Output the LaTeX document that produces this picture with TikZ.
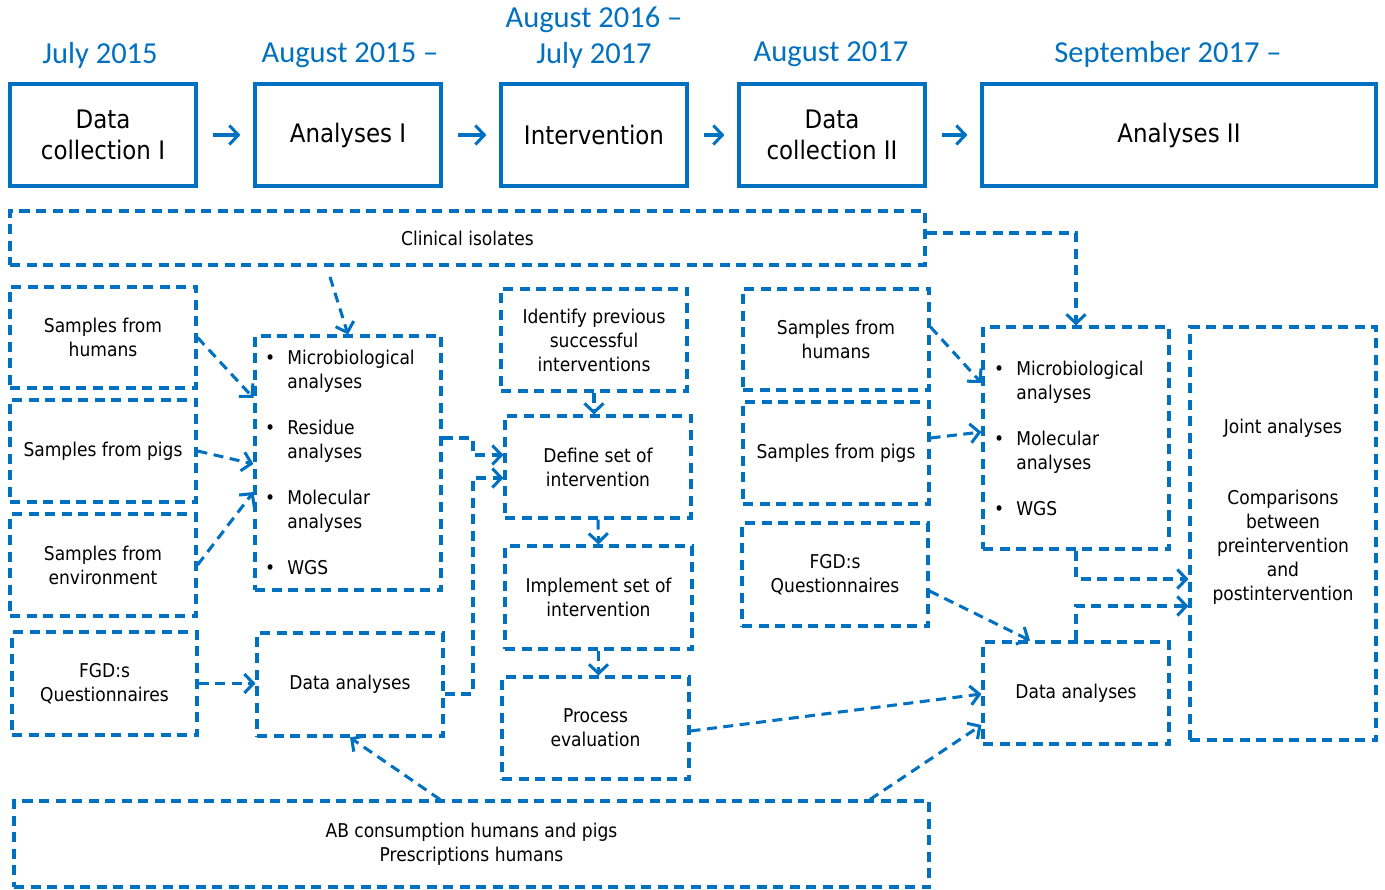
\documentclass[tikz,border=0pt]{standalone}
\usepackage{fontspec}
\setmainfont{DejaVu Sans Condensed}
\newfontfamily\headfont{Carlito}
\usetikzlibrary{arrows.meta,calc}
\definecolor{bl}{HTML}{0070C0}
\begin{document}
\begin{tikzpicture}[x=1pt,y=-1pt,
 solidbox/.style={draw=bl,line width=3.1pt,inner sep=0pt,align=center,font=\fontsize{25.5}{31}\selectfont},
 dbox/.style={draw=bl,line width=3.05pt,dash pattern=on 10pt off 6.5pt,inner sep=0pt,align=center,font=\fontsize{19}{24}\selectfont},
 txt/.style={inner sep=0pt,align=center,font=\fontsize{19}{24}\selectfont},
 head/.style={text=bl,inner sep=0pt,font=\headfont\fontsize{30.5}{36}\selectfont,align=center},
 tip/.style={-{Straight Barb[length=9pt,width=19pt,line width=3.05pt]}},
 darr/.style={draw=bl,line width=3.05pt,dash pattern=on 10pt off 6.5pt,tip},
 sarr/.style={draw=bl,line width=3.2pt,tip},
]
\useasboundingbox (0,0) rectangle (1385,890);
% headings
\node[head] (h1) at (100,55) {July 2015};
\node[head] (h2) at (350,55) {August 2015 –};
\node[head] (h3) at (594,38) {August 2016 –\\July 2017};
\node[head] (h4) at (831,54) {August 2017};
\node[head] (h5) at (1168,54) {September 2017 –};
% top boxes
\node[solidbox,minimum width=186pt,minimum height=102pt] (dc1) at (103,135) {Data\\collection I};
\node[solidbox,minimum width=186pt,minimum height=102pt] (a1) at (348,135) {Analyses I};
\node[solidbox,minimum width=186pt,minimum height=102pt] (int) at (594,135) {Intervention};
\node[solidbox,minimum width=186pt,minimum height=102pt] (dc2) at (832,135) {Data\\collection II};
\node[solidbox,minimum width=394pt,minimum height=102pt] (a2) at (1179,135) {Analyses II};
\foreach \a/\b in {dc1/a1,a1/int,int/dc2,dc2/a2}
  \draw[sarr,shorten <=15pt,shorten >=13pt] (\a.east) -- (\b.west);
% dashed boxes
\node[dbox,minimum width=915pt,minimum height=54pt] (clin) at (467.5,238) {Clinical isolates};
\node[dbox,minimum width=186pt,minimum height=101pt] (hl) at (103,337.5) {Samples from\\humans};
\node[dbox,minimum width=186pt,minimum height=102pt] (pl) at (103,451) {Samples from pigs};
\node[dbox,minimum width=186pt,minimum height=102pt] (el) at (103,565) {Samples from\\environment};
\node[dbox,minimum width=185pt,minimum height=103pt] (fl) at (104.5,683.5) {FGD:s\\Questionnaires};
\node[dbox,minimum width=186pt,minimum height=254pt] (labL) at (348,463) {};
\node[dbox,minimum width=186pt,minimum height=103pt] (daL) at (350,684.5) {Data analyses};
\node[dbox,minimum width=186pt,minimum height=102pt] (idf) at (594,340) {Identify previous\\successful\\interventions};
\node[dbox,minimum width=186pt,minimum height=102pt] (def) at (598,467) {Define set of\\intervention};
\node[dbox,minimum width=187pt,minimum height=103pt] (imp) at (598.5,597.5) {Implement set of\\intervention};
\node[dbox,minimum width=187pt,minimum height=102pt] (proc) at (595.5,728) {Process\\evaluation};
\node[dbox,minimum width=915pt,minimum height=86pt] (ab) at (471.5,844) {AB consumption humans and pigs\\Prescriptions humans};
\node[dbox,minimum width=186pt,minimum height=101pt] (hr) at (836,339.5) {Samples from\\humans};
\node[dbox,minimum width=186pt,minimum height=102pt] (pr) at (836,453) {Samples from pigs};
\node[dbox,minimum width=186pt,minimum height=103pt] (fr) at (835,574.5) {FGD:s\\Questionnaires};
\node[dbox,minimum width=186pt,minimum height=222pt] (labR) at (1076,438) {};
\node[dbox,minimum width=186pt,minimum height=102pt] (daR) at (1076,693) {Data analyses};
\node[dbox,minimum width=186pt,minimum height=413pt] (joint) at (1283,533.5) {};
% box contents
\node[txt,anchor=base west,align=left] (labLt) at (265,365) {\begin{tabular}[t]{@{}l@{\hspace{12pt}}l@{}}
•&Microbiological\\&analyses\\[22pt]
•&Residue\\&analyses\\[22pt]
•&Molecular\\&analyses\\[22pt]
•&WGS\end{tabular}};
\node[txt,anchor=base west,align=left] (labRt) at (994,376) {\begin{tabular}[t]{@{}l@{\hspace{12pt}}l@{}}
•&Microbiological\\&analyses\\[22pt]
•&Molecular\\&analyses\\[22pt]
•&WGS\end{tabular}};
\node[txt] (jt) at (1283,512) {Joint analyses\\[47pt]Comparisons\\between\\preintervention\\and\\postintervention};
% connectors
\coordinate (ci) at (330,277);
\draw[darr] (ci) -- (labL.north);
\draw[darr] (hl.east) -- (labL.west |- 0,398);
\draw[darr] (pl.east) -- (labL.west |- 0,464);
\draw[darr] (el.east) -- (labL.west |- 0,492);
\draw[darr] (fl.east) -- (daL.west |- fl.east);
\draw[darr] (labL.east |- 0,438) -- (473,438) |- (def.west |- 0,455);
\draw[darr] (daL.east |- 0,694) -- (473,694) |- (def.west |- 0,478);
\draw[darr] (idf.south) -- (idf.south |- def.north);
\draw[darr] (def.south) -- (imp.north);
\draw[darr] (imp.south) -- (imp.south |- proc.north);
\draw[darr] (proc.east |- 0,731) -- (daR.west |- 0,694);
\draw[darr] (ab.north -| 440,0) -- (daL.south);
\draw[darr] (ab.north -| 870,0) -- (daR.west |- 0,725);
\draw[darr] (clin.east |- 0,233) -| (labR.north);
\draw[darr] (hr.east |- 0,327) -- (labR.west |- 0,383);
\draw[darr] (pr.east |- 0,438) -- (labR.west |- 0,432);
\draw[darr] (fr.east |- 0,591) -- (daR.north -| 1030,0);
\draw[darr] (labR.south) |- (joint.west |- 0,579);
\draw[darr] (daR.north) |- (joint.west |- 0,606);
\end{tikzpicture}
\end{document}
